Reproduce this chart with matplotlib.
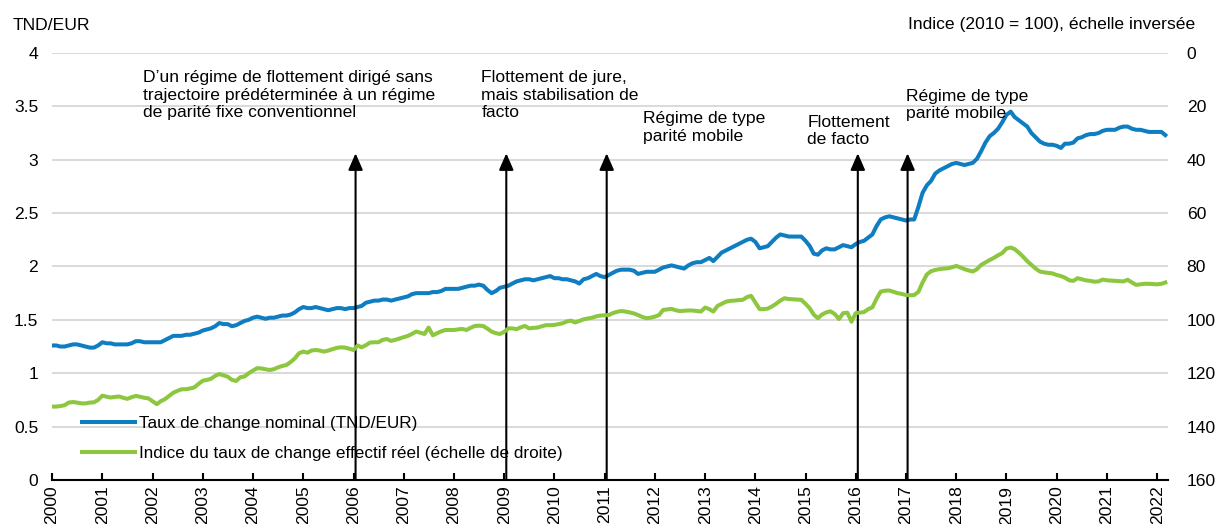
import numpy as np
import pandas as pd
import matplotlib
matplotlib.use("Agg")
import matplotlib.pyplot as plt

plt.rcParams['font.family'] = ['Liberation Sans', 'DejaVu Sans']
plt.rcParams['font.size'] = 12.6

# Taux de change nominal TND/EUR, mensuel (jan 2000 - mars 2022)
nominal = [
    1.26, 1.26, 1.25, 1.25, 1.26, 1.27, 1.27, 1.26, 1.25, 1.24, 1.24, 1.26,  # 2000
    1.29, 1.28, 1.28, 1.27, 1.27, 1.27, 1.27, 1.28, 1.30, 1.30, 1.29, 1.29,  # 2001
    1.29, 1.29, 1.29, 1.31, 1.33, 1.35, 1.35, 1.35, 1.36, 1.36, 1.37, 1.38,  # 2002
    1.40, 1.41, 1.42, 1.44, 1.47, 1.46, 1.46, 1.44, 1.45, 1.47, 1.49, 1.50,  # 2003
    1.52, 1.53, 1.52, 1.51, 1.52, 1.52, 1.53, 1.54, 1.54, 1.55, 1.57, 1.60,  # 2004
    1.62, 1.61, 1.61, 1.62, 1.61, 1.60, 1.59, 1.60, 1.61, 1.61, 1.60, 1.61,  # 2005
    1.61, 1.62, 1.63, 1.66, 1.67, 1.68, 1.68, 1.69, 1.69, 1.68, 1.69, 1.70,  # 2006
    1.71, 1.72, 1.74, 1.75, 1.75, 1.75, 1.75, 1.76, 1.76, 1.77, 1.79, 1.79,  # 2007
    1.79, 1.79, 1.80, 1.81, 1.82, 1.82, 1.83, 1.82, 1.78, 1.75, 1.77, 1.80,  # 2008
    1.81, 1.82, 1.84, 1.86, 1.87, 1.88, 1.88, 1.87, 1.88, 1.89, 1.90, 1.91,  # 2009
    1.89, 1.89, 1.88, 1.88, 1.87, 1.86, 1.84, 1.88, 1.89, 1.91, 1.93, 1.91,  # 2010
    1.90, 1.92, 1.94, 1.96, 1.97, 1.97, 1.97, 1.96, 1.93, 1.94, 1.95, 1.95,  # 2011
    1.95, 1.97, 1.99, 2.00, 2.01, 2.00, 1.99, 1.98, 2.01, 2.03, 2.04, 2.04,  # 2012
    2.06, 2.08, 2.05, 2.09, 2.13, 2.15, 2.17, 2.19, 2.21, 2.23, 2.25, 2.26,  # 2013
    2.23, 2.17, 2.18, 2.19, 2.23, 2.27, 2.30, 2.29, 2.28, 2.28, 2.28, 2.28,  # 2014
    2.24, 2.19, 2.12, 2.11, 2.15, 2.17, 2.16, 2.16, 2.18, 2.20, 2.19, 2.18,  # 2015
    2.21, 2.23, 2.24, 2.27, 2.30, 2.38, 2.44, 2.46, 2.47, 2.46, 2.45, 2.44,  # 2016
    2.43, 2.44, 2.44, 2.56, 2.69, 2.76, 2.80, 2.87, 2.90, 2.92, 2.94, 2.96,  # 2017
    2.97, 2.96, 2.95, 2.96, 2.97, 3.01, 3.08, 3.16, 3.22, 3.25, 3.29, 3.35,  # 2018
    3.42, 3.45, 3.40, 3.37, 3.34, 3.31, 3.25, 3.21, 3.17, 3.15, 3.14, 3.14,  # 2019
    3.13, 3.11, 3.15, 3.15, 3.16, 3.20, 3.21, 3.23, 3.24, 3.24, 3.25, 3.27,  # 2020
    3.28, 3.28, 3.28, 3.30, 3.31, 3.31, 3.29, 3.28, 3.28, 3.27, 3.26, 3.26,  # 2021
    3.26, 3.26, 3.23,                                                        # 2022
]

# Indice du taux de change effectif reel (2010 = 100), echelle inversee
reer = [
    132.5, 132.5, 132.3, 132.0, 131.0, 130.8, 131.0, 131.3, 131.3, 131.0, 130.9, 130.0,
    128.4, 128.8, 129.1, 128.9, 128.7, 129.2, 129.6, 129.0, 128.5, 128.8, 129.2, 129.4,
    130.5, 131.6, 130.5, 129.7, 128.5, 127.3, 126.6, 126.0, 126.0, 125.7, 125.3, 124.0,
    122.8, 122.5, 122.1, 121.0, 120.3, 120.8, 121.3, 122.5, 122.9, 121.5, 121.2, 120.0,
    119.0, 118.1, 118.2, 118.5, 118.8, 118.5, 117.8, 117.3, 116.9, 115.8, 114.4, 112.5,
    111.9, 112.3, 111.5, 111.3, 111.5, 111.9, 111.5, 111.0, 110.5, 110.3, 110.4, 110.8,
    111.3, 109.6, 110.3, 109.5, 108.5, 108.4, 108.4, 107.5, 107.2, 107.9, 107.5, 107.0,
    106.5, 106.0, 105.3, 104.4, 104.8, 105.3, 102.9, 105.8, 105.0, 104.3, 103.8, 103.8,
    103.8, 103.6, 103.4, 103.8, 103.0, 102.3, 102.2, 102.3, 103.3, 104.4, 105.0, 105.3,
    104.5, 103.2, 103.2, 103.5, 102.8, 102.3, 103.2, 103.0, 102.9, 102.4, 102.0, 102.0,
    101.9, 101.6, 101.3, 100.6, 100.3, 101.0, 100.4, 99.8, 99.5, 99.2, 98.7, 98.4,
    98.3, 98.2, 97.5, 97.0, 96.7, 96.9, 97.2, 97.6, 98.2, 98.9, 99.4, 99.2,
    98.8, 98.2, 96.3, 96.1, 95.9, 96.4, 96.7, 96.6, 96.5, 96.5, 96.7, 96.9,
    95.4, 96.0, 96.9, 94.8, 94.0, 93.2, 92.9, 92.8, 92.6, 92.5, 91.5, 91.0,
    93.5, 96.0, 96.0, 95.8, 95.0, 94.0, 92.8, 91.9, 92.2, 92.3, 92.4, 92.5,
    94.0, 95.7, 98.0, 99.4, 98.0, 97.2, 96.8, 97.8, 99.7, 97.5, 97.3, 100.7,
    97.5, 97.3, 97.1, 96.0, 95.3, 92.0, 89.4, 89.1, 89.0, 89.5, 90.0, 90.3,
    90.7, 90.8, 90.7, 89.5, 86.0, 83.0, 81.8, 81.3, 81.0, 80.8, 80.7, 80.3,
    79.8, 80.4, 81.0, 81.5, 81.9, 81.0, 79.4, 78.5, 77.6, 76.8, 75.8, 75.0,
    73.3, 72.9, 73.5, 74.8, 76.3, 78.0, 79.4, 80.8, 81.9, 82.2, 82.4, 82.6,
    83.2, 83.6, 84.2, 85.2, 85.4, 84.4, 84.8, 85.2, 85.4, 85.7, 85.6, 84.9,
    85.2, 85.3, 85.4, 85.5, 85.6, 85.0, 86.0, 86.9, 86.7, 86.5, 86.5, 86.6,
    86.7, 86.5, 86.0,
]

dates = pd.date_range('2000-01-01', periods=len(nominal), freq='MS')

# changements de regime : date de la fleche et texte
regime_dates = pd.to_datetime(['2006-01-16', '2009-01-16', '2011-01-16',
                               '2016-01-16', '2017-01-12'])
regime_labels = [
    "D\u2019un régime de flottement dirigé sans\ntrajectoire prédéterminée à un régime\nde parité fixe conventionnel",
    "Flottement de jure,\nmais stabilisation de\nfacto",
    "Régime de type\nparité mobile",
    "Flottement\nde facto",
    "Régime de type\nparité mobile",
]
label_dates = pd.to_datetime(['2001-10-20', '2008-07-18', '2011-10-08',
                              '2015-01-15', '2017-01-01'])
label_tops = [3.84, 3.84, 3.455, 3.42, 3.665]

blue = '#0F7DC2'
green = '#8DC63F'

fig = plt.figure(figsize=(12.19, 5.24), dpi=100)
ax = fig.add_axes([0.0427, 0.084, 0.9154, 0.815])
ax2 = ax.twinx()

ax.set_ylim(0, 4)
ax.set_yticks(np.arange(0, 4.01, 0.5))
ax.set_yticklabels(['0', '0.5', '1', '1.5', '2', '2.5', '3', '3.5', '4'])
ax2.set_ylim(160, 0)
ax2.set_yticks(np.arange(0, 161, 20))

ax.grid(axis='y', color='#d9d9d9', linewidth=1.4)
ax.set_axisbelow(True)

l1, = ax.plot(dates, nominal, color=blue, linewidth=2.9, zorder=3,
              label='Taux de change nominal (TND/EUR)')
l2, = ax2.plot(dates, reer, color=green, linewidth=2.9, zorder=3,
               label='Indice du taux de change effectif réel (échelle de droite)')

for d in regime_dates:
    ax.annotate('', xy=(d, 3.06), xytext=(d, 0),
                arrowprops=dict(arrowstyle='-|>,head_length=0.8,head_width=0.35',
                                color='black', linewidth=1.5, shrinkA=0, shrinkB=0),
                zorder=4)

for d, t, y in zip(label_dates, regime_labels, label_tops):
    ax.text(d, y, t, ha='left', va='top', linespacing=1.22, zorder=5)

years = pd.date_range('2000-01-01', '2022-01-01', freq='YS')
ax.set_xticks(years)
ax.set_xticklabels([str(y.year) for y in years], rotation=90)
ax.set_xlim(pd.Timestamp('2000-01-01'), pd.Timestamp('2022-03-20'))

for a in (ax, ax2):
    for s in ['top', 'left', 'right', 'bottom']:
        a.spines[s].set_visible(False)
ax.spines['bottom'].set_visible(True)
ax.spines['bottom'].set_linewidth(1.5)
ax.tick_params(axis='x', direction='in', length=5, width=1.5, pad=4)
ax.tick_params(axis='y', length=0, pad=10)
ax2.tick_params(axis='y', length=0, pad=13.5)

ax.legend(handles=[l1, l2], loc='lower left', bbox_to_anchor=(0.027, 0.045),
          frameon=False, borderpad=0, borderaxespad=0, handlelength=3.1,
          handletextpad=0.25, labelspacing=0.85, fontsize=12.3)

fig.text(13 / 1219, 1 - 25 / 524, 'TND/EUR', ha='left', va='center')
fig.text(1195 / 1219, 1 - 25 / 524, 'Indice (2010 = 100), échelle inversée',
         ha='right', va='center')

fig.savefig('out.png', dpi=100)
